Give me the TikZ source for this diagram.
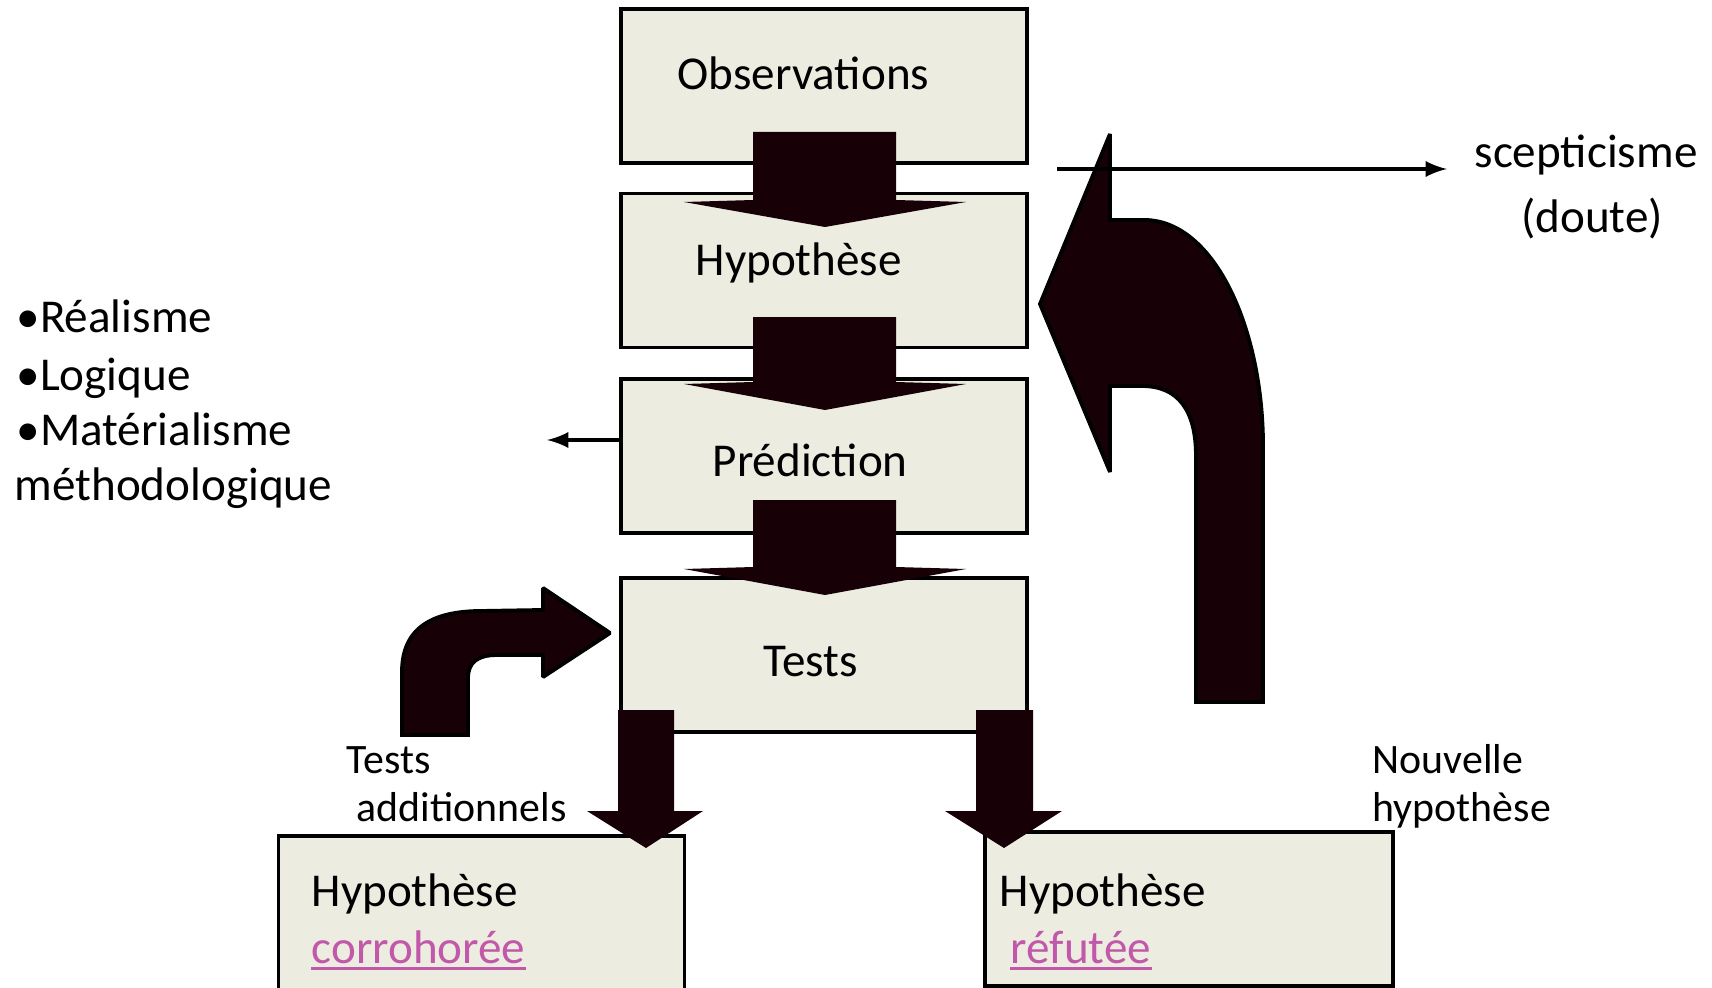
\documentclass[tikz,border=0pt]{standalone}
\usepackage{fontspec}
\setmainfont{Carlito}
\usetikzlibrary{positioning}
\definecolor{boxfill}{RGB}{236,236,225}
\definecolor{arrowfill}{RGB}{23,0,6}
\definecolor{linkpink}{RGB}{193,88,170}

\begin{document}
\begin{tikzpicture}[x=0.01cm,y=-0.01cm,
    box/.style={draw=black,line width=1pt,fill=boxfill,inner sep=0pt,
                minimum width=4.06cm,minimum height=1.54cm},
    big/.style={font=\fontsize{13.4}{16}\selectfont,inner sep=0pt},
    small/.style={font=\fontsize{11.9}{14}\selectfont,inner sep=0pt},
    block/.style={fill=arrowfill},
    bent/.style={fill=arrowfill,draw=black,line width=1.1pt,line join=miter,miter limit=1.5},
    thin/.style={line width=1.1pt,-latex}]

\useasboundingbox (0,0) rectangle (1712,988);

% boxes of the column
\node[box] (obs) at (824,86) {};
\node[box] (hyp) at (824,270.5) {};
\node[box] (pred) at (824,456) {};
\node[box] (tests) at (824,655) {};
% result boxes
\node[box,minimum height=1.70cm] (corro) at (481.5,921) {};
\node[box,minimum width=4.08cm] (refut) at (1189,909) {};

% block arrows down the column
\fill[block] (753,132) -- (896,132) -- (896,200) -- (966,202) -- (825,227) -- (684,202) -- (753,200) -- cycle;
\fill[block] (753,317) -- (896,317) -- (896,382) -- (966,384) -- (825,410) -- (684,384) -- (753,382) -- cycle;
\fill[block] (753,500) -- (896,500) -- (896,567) -- (966,569) -- (825,595) -- (684,569) -- (753,567) -- cycle;

% block arrows to the results
\fill[block] (618,710) -- (674,710) -- (674,811) -- (703,811) -- (646,848) -- (587,811) -- (618,811) -- cycle;
\fill[block] (976,710) -- (1033,710) -- (1033,811) -- (1062,811) -- (1004,848) -- (945,811) -- (976,811) -- cycle;

% tests additionnels
\draw[bent] (402,735) -- (402,672) .. controls (402,628) and (432,611) .. (482,611)
  -- (543,610) -- (543,588) -- (610,633) -- (543,677) -- (543,655) -- (497,655)
  .. controls (478,655) and (468,662) .. (468,678) -- (468,735) -- cycle;

% nouvelle hypothese
\draw[bent] (1263,702) -- (1263,446) .. controls (1263,330) and (1215,221) .. (1145,220)
  -- (1110,220) -- (1110,134) -- (1040,304) -- (1110,472) -- (1110,386) -- (1142,386)
  .. controls (1178,386) and (1196,410) .. (1196,456) -- (1196,702) -- cycle;

% texts of the boxes
\node[big,anchor=base west] (obs-t) at (677,90) {Observations};
\node[big,anchor=base west] (hyp-t) at (695,275) {Hypothèse};
\node[big,anchor=base west] (pred-t) at (712,476) {Prédiction};
\node[big,anchor=base west] (tests-t) at (763,676) {Tests};
\node[big,anchor=base west] (corro-a) at (311,906) {Hypothèse};
\node[big,anchor=base west,text=linkpink] (corro-b) at (311,963) {corrohorée};
\node[big,anchor=base west] (refut-a) at (999,906) {Hypothèse};
\node[big,anchor=base west,text=linkpink] (refut-b) at (1010,963) {réfutée};
\draw[linkpink,line width=0.9pt] ([yshift=-0.055cm]corro-b.base west) -- ([yshift=-0.055cm]corro-b.base east);
\draw[linkpink,line width=0.9pt] ([yshift=-0.055cm]refut-b.base west) -- ([yshift=-0.055cm]refut-b.base east);

% side labels
\node[small,anchor=base west] (add-a) at (346,773) {Tests};
\node[small,anchor=base west] (add-b) at (356,821) {additionnels};
\node[small,anchor=base west] (new-a) at (1372,773) {Nouvelle};
\node[small,anchor=base west] (new-b) at (1372,821) {hypothèse};
\node[big,anchor=base] (scep-a) at (1586,168) {scepticisme};
\node[big,anchor=base] (scep-b) at (1592,232) {(doute)};
\node[big,anchor=base west] (list-a) at (16,332) {•Réalisme};
\node[big,anchor=base west] (list-b) at (16,390) {•Logique};
\node[big,anchor=base west] (list-c) at (16,445) {•Matérialisme};
\node[big,anchor=base west] (list-d) at (14,500) {méthodologique};

% thin arrows
\coordinate (scep-tip) at (1447,169);
\coordinate (scep-start) at (1057,169);
\coordinate (list-tip) at (547,440);
\draw[thin] (scep-start) -- (scep-tip);
\draw[thin] (pred.west |- list-tip) -- (list-tip);
\end{tikzpicture}
\end{document}
